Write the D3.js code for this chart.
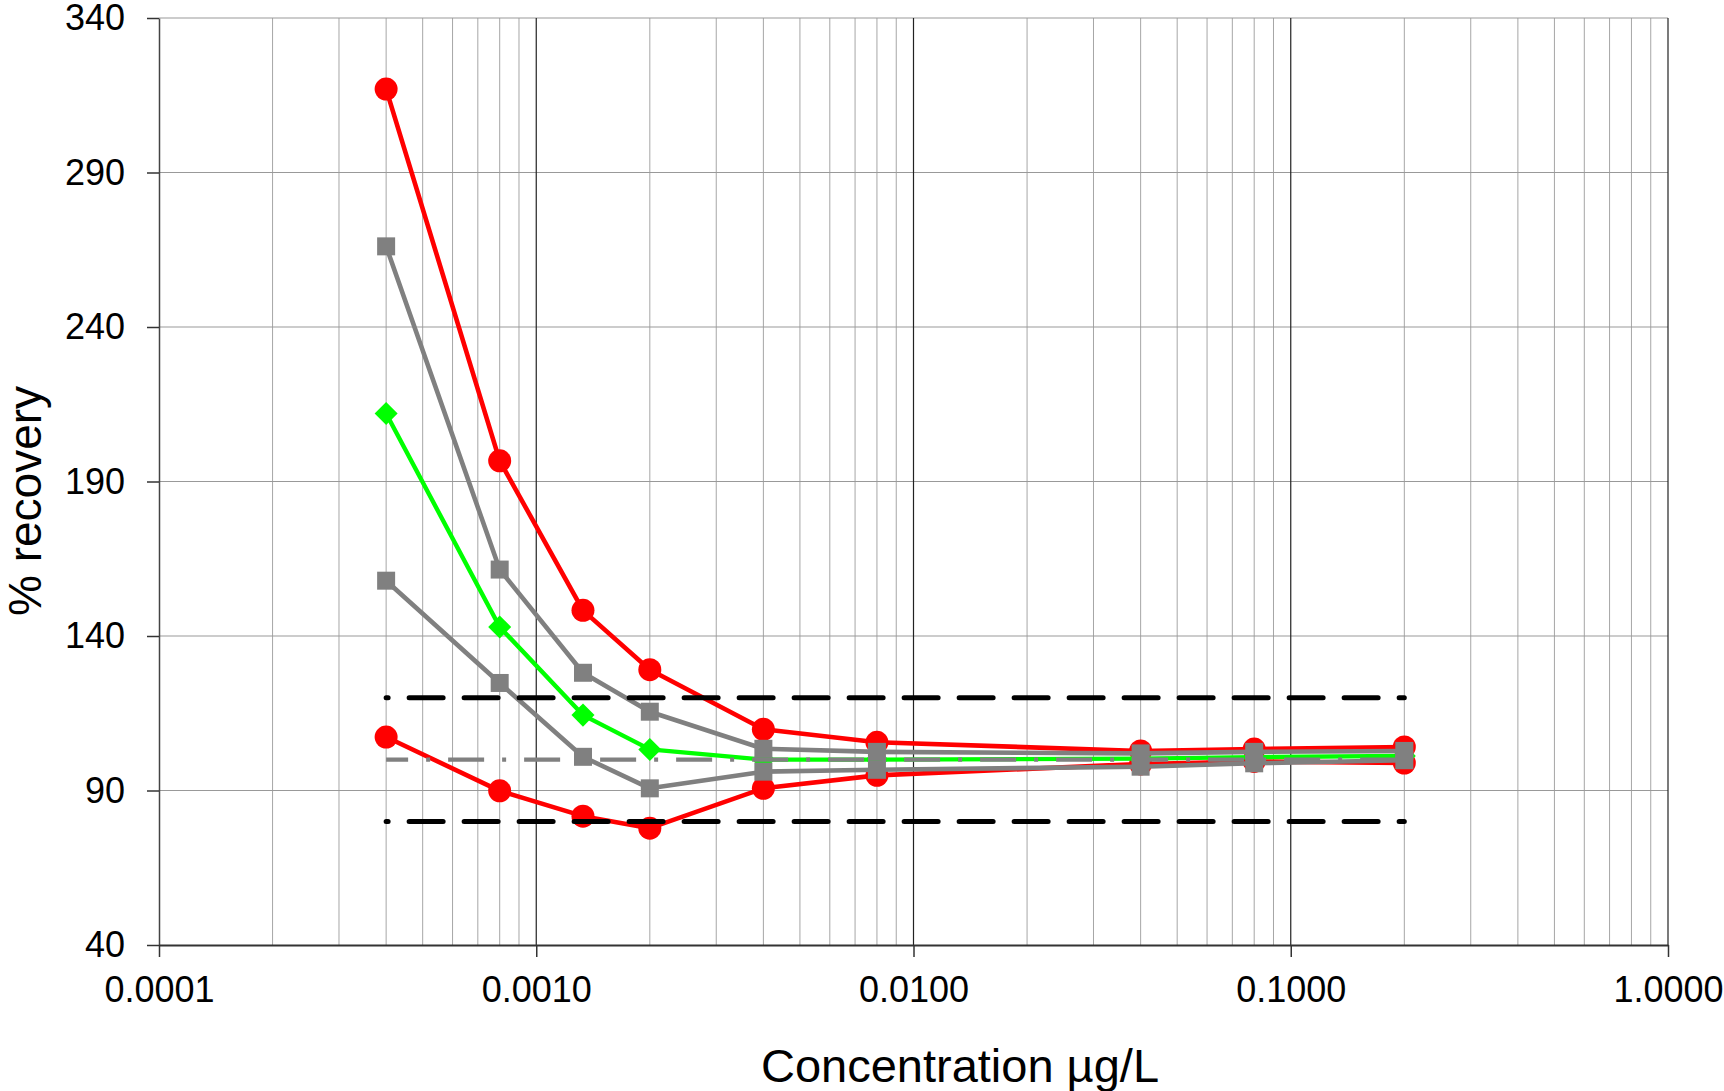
<!DOCTYPE html>
<html>
<head>
<meta charset="utf-8">
<script src="https://cdn.jsdelivr.net/npm/d3@7"></script>
<style>
  html, body { margin: 0; padding: 0; background: #fff; }
  svg { display: block; }
  text { font-family: "Liberation Sans", Arial, sans-serif; fill: #000; }
</style>
</head>
<body>
<svg id="chart" width="1724" height="1091"></svg>
<script>
// Concentrations (µg/L) of the calibration levels
const concentrations = [0.0004, 0.0008, 0.00133, 0.002, 0.004, 0.008, 0.04, 0.08, 0.2];

// % recovery per level
const upperRed  = [317, 196.7, 148.3, 129.1, 109.8, 105.6, 102.8, 103.4, 104.1];
const upperGray = [266.1, 161.5, 128.1, 115.5, 103.5, 102.5, 102.0, 102.5, 102.8];
const meanGreen = [212, 142.9, 114.4, 103.3, 100.0, 100.0, 100.3, 100.8, 101.2];
const lowerGray = [157.9, 124.8, 100.9, 90.7, 96.1, 96.7, 97.7, 98.8, 99.8];
const lowerRed  = [107.3, 89.9, 81.7, 77.8, 90.7, 94.9, 98.6, 99.4, 98.9];

// Acceptance limits and target
const upperLimit = 120;
const lowerLimit = 80;
const target = 100;

// Axis ticks
const yTicks = [40, 90, 140, 190, 240, 290, 340];
const xMajorTicks = [0.0001, 0.001, 0.01, 0.1, 1];
const xTitle = "Concentration µg/L";
const yTitle = "% recovery";

const svg = d3.select("#chart");
const plotLeft = 159, plotRight = 1668, plotTop = 18, plotBottom = 945;

const x = d3.scaleLog().domain([0.0001, 1]).range([plotLeft, plotRight]);
const y = d3.scaleLinear().domain([40, 340]).range([plotBottom, plotTop]);

// Minor log gridlines (2..9 of each decade)
const minor = [];
for (let d = 0.0001; d < 1; d *= 10) {
  for (let k = 2; k <= 9; k++) minor.push(+(k * d).toPrecision(3));
}
const grid = svg.append("g");
grid.selectAll("line.minor").data(minor).join("line")
  .attr("x1", d => x(d)).attr("x2", d => x(d))
  .attr("y1", plotTop).attr("y2", plotBottom)
  .attr("stroke", "#a6a6a6").attr("stroke-width", 1);
grid.selectAll("line.h").data(yTicks.filter(v => v > 40)).join("line")
  .attr("x1", plotLeft).attr("x2", plotRight)
  .attr("y1", d => y(d)).attr("y2", d => y(d))
  .attr("stroke", "#999").attr("stroke-width", 1.2);
grid.selectAll("line.major").data(xMajorTicks.slice(1)).join("line")
  .attr("x1", d => x(d)).attr("x2", d => x(d))
  .attr("y1", plotTop).attr("y2", plotBottom)
  .attr("stroke", "#222").attr("stroke-width", 1.2);

// Axes
const yAxis = d3.axisLeft(y).tickValues(yTicks).tickSize(12).tickSizeOuter(0)
  .tickPadding(22).tickFormat(d3.format("d"));
const gy = svg.append("g").attr("transform", `translate(${plotLeft},0)`).call(yAxis);
gy.select(".domain").attr("stroke", "#444").attr("stroke-width", 1.5);
gy.selectAll(".tick line").attr("stroke", "#333").attr("stroke-width", 1.5);
gy.selectAll(".tick text").attr("font-size", 36).attr("font-family", "Liberation Sans, Arial, sans-serif");

const xAxis = d3.axisBottom(x).tickValues(xMajorTicks).tickSize(12).tickSizeOuter(0)
  .tickPadding(19).tickFormat(d3.format(".4f"));
const gx = svg.append("g").attr("transform", `translate(0,${plotBottom})`).call(xAxis);
gx.select(".domain").attr("stroke", "#333").attr("stroke-width", 2.2);
gx.selectAll(".tick line").attr("stroke", "#333").attr("stroke-width", 1.5);
gx.selectAll(".tick text").attr("font-size", 36).attr("font-family", "Liberation Sans, Arial, sans-serif");

// Axis titles
svg.append("text").attr("x", 960).attr("y", 1082).attr("text-anchor", "middle")
  .attr("font-size", 47).text(xTitle);
svg.append("text").attr("transform", "translate(41,501) rotate(-90)")
  .attr("text-anchor", "middle").attr("font-size", 46).text(yTitle);

// Series
const line = d3.line().x((d, i) => x(concentrations[i])).y(d => y(d));
const plot = svg.append("g");

function drawSeries(values, color, width, shape, rot) {
  const g = plot.append("g");
  g.append("path").attr("d", line(values)).attr("fill", "none")
    .attr("stroke", color).attr("stroke-width", width).attr("stroke-linejoin", "round");
  g.selectAll("path.m").data(values).join("path")
    .attr("transform", (d, i) => `translate(${x(concentrations[i])},${y(d)}) rotate(${rot || 0})`)
    .attr("d", d3.symbol().type(shape.type).size(shape.size)())
    .attr("fill", color);
}

const circle = { type: d3.symbolCircle, size: Math.PI * 11.5 * 11.5 };
const square = { type: d3.symbolSquare, size: 18 * 18 };
const diamond = { type: d3.symbolSquare, size: 16.3 * 16.3 };

drawSeries(upperRed, "#ff0000", 4.6, circle);
drawSeries(lowerRed, "#ff0000", 4.6, circle);
drawSeries(meanGreen, "#00ff00", 4.4, diamond, 45);
drawSeries(upperGray, "#808080", 4.6, square);
drawSeries(lowerGray, "#808080", 4.6, square);

// Reference lines
const x0 = x(concentrations[0]), x1 = x(concentrations[concentrations.length - 1]);
[upperLimit, lowerLimit].forEach(v => {
  svg.append("line").attr("x1", x0).attr("x2", x1).attr("y1", y(v)).attr("y2", y(v))
    .attr("stroke", "#000").attr("stroke-width", 5).attr("stroke-linecap", "round")
    .attr("stroke-dasharray", "34,21").attr("stroke-dashoffset", 32);
});
svg.append("line").attr("x1", x0).attr("x2", x1).attr("y1", y(target)).attr("y2", y(target))
  .attr("stroke", "#808080").attr("stroke-width", 4.4)
  .attr("stroke-dasharray", "36,18,4,18").attr("stroke-dashoffset", 14);
</script>
</body>
</html>
